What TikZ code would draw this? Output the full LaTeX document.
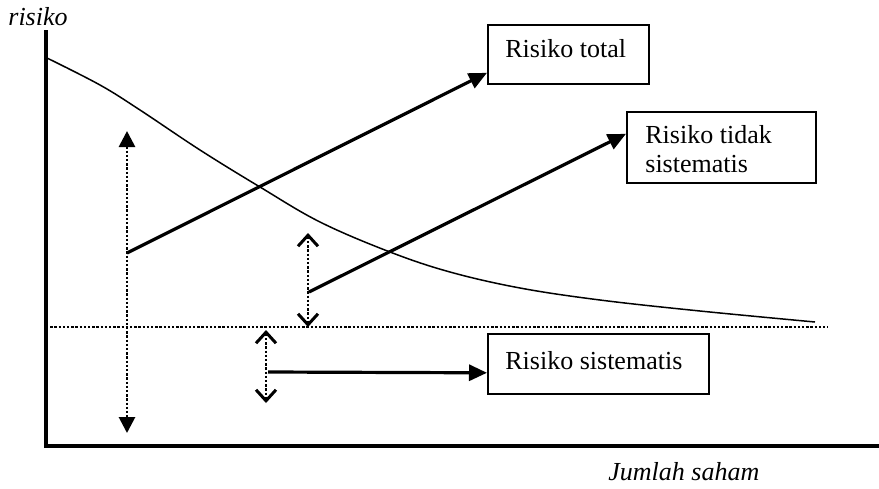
\documentclass[tikz,border=0pt]{standalone}
\usepackage{fontspec}
\setmainfont{Liberation Serif}
\usetikzlibrary{arrows.meta}
\begin{document}
\begin{tikzpicture}[x=0.5pt,y=-0.5pt,
  axis/.style={line width=1.6pt},
  curve/.style={line width=0.75pt},
  dotln/.style={line width=1.4pt,dash pattern=on 1.2pt off 0.9pt},
  fillarr/.style={dotln,{Triangle[length=8pt,width=8pt]}-{Triangle[length=8pt,width=8pt]}},
  openarr/.style={dotln,{Straight Barb[length=5.5pt,width=10pt,line width=1.5pt]}-{Straight Barb[length=5.5pt,width=10pt,line width=1.5pt]}},
  thk/.style={line width=1.6pt,-{Triangle[length=9pt,width=8pt]}},
  box/.style={draw,line width=0.8pt,inner sep=0pt,anchor=north west},
  lbl/.style={inner sep=0pt,anchor=base west,font=\fontsize{13}{14.5}\selectfont},
  ilbl/.style={inner sep=0pt,anchor=base west,font=\fontsize{13}{14.5}\selectfont\itshape},
  ]
\useasboundingbox (0,0) rectangle (879,488);
% axes
\coordinate (o) at (46,446);
\coordinate (ytop) at (46,30);
\coordinate (xend) at (879,446);
\draw[axis] (ytop) -- (o) -- (xend);
\node[ilbl] (ylab) at (8,25) {risiko};
\node[ilbl] (xlab) at (608,480) {Jumlah saham};
% curve
\draw[curve] plot[smooth,tension=0.6] coordinates {(47,58) (100,85) (140,110) (200,150) (260,187) (320,222) (390,252) (450,272) (520,288) (600,300) (700,311) (815,322)};
% dotted horizontal
\coordinate (h1) at (46,327);
\coordinate (h2) at (828,327);
\draw[dotln] (h1) -- (h2);
% boxes
\node[box,minimum width=80.5pt,minimum height=29.5pt] (total) at (487,24) {};
\node[lbl] (ttotal) at (505,57) {Risiko total};
\node[box,minimum width=94.5pt,minimum height=35.5pt] (tidak) at (626,111) {};
\node[lbl] (ttidak1) at (645,143) {Risiko tidak};
\node[lbl] (ttidak2) at (645,172) {sistematis};
\node[box,minimum width=110.5pt,minimum height=30pt] (sist) at (487,333) {};
\node[lbl] (tsist) at (505,369) {Risiko sistematis};
% dotted double arrows
\coordinate (a1t) at (127,131);
\coordinate (a1b) at (127,433);
\draw[fillarr] (a1t) -- (a1b);
\coordinate (a2t) at (308,233);
\coordinate (a2b) at (308,327);
\draw[openarr] (a2t) -- (a2b);
\coordinate (a3t) at (266,330);
\coordinate (a3b) at (266,403);
\draw[openarr] (a3t) -- (a3b);
% thick arrows
\coordinate (s1) at (127,253);
\coordinate (s2) at (309,292);
\coordinate (s3) at (268,372);
\draw[thk] (s1) -- ([yshift=-9.25pt]total.west);
\draw[thk] (s2) -- ([yshift=6.75pt]tidak.west);
\draw[thk] (s3) -- ([yshift=-4.5pt]sist.west);
\end{tikzpicture}
\end{document}
